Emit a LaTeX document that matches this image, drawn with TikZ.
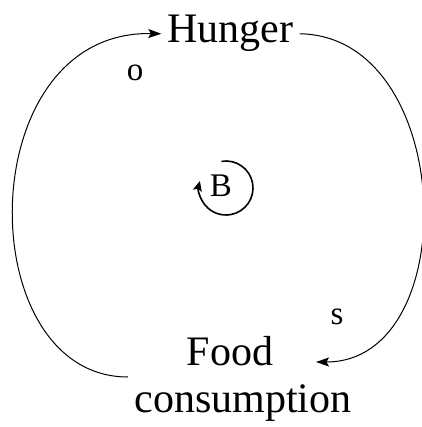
\documentclass[tikz,border=0pt]{standalone}
\usepackage{fontspec}
\setmainfont{Liberation Serif}
\usetikzlibrary{arrows.meta}

\begin{document}
\begin{tikzpicture}[x=1pt,y=-1pt,>={Stealth[length=13pt,width=9pt,inset=2.5pt]},var/.style={font=\fontsize{42}{47}\selectfont, inner ysep=0pt, inner xsep=6pt},link/.style={->, line width=1pt},sign/.style={font=\fontsize{33}{38}\selectfont, inner sep=0pt},loopmark/.style={->, line width=1.6pt, >={Stealth[length=10pt,width=9pt,inset=2pt]}}]
\useasboundingbox (0,0) rectangle (421,427);
\node[var, anchor=base] (hunger) at (230.5,43) {Hunger};
\node[var, anchor=base] (food) at (230,365) {Food};
\node[var, anchor=base] (cons) at (243,412) {consumption};
\draw[link] ([shift={(-102,12)}]food.base) .. controls (-30,377) and (-30,30) .. (hunger.west);
\draw[link] (hunger.east) .. controls (456,36) and (465,362) .. ([shift={(86,-3)}]food.base);
\node[sign] (o) at (135,73) {o};
\node[sign] (s) at (337,317) {s};
\node[sign] (B) at (221,186) {B};
\draw[loopmark] ([shift={(5,2)}]B.center) ++(-100:27) arc[start angle=-100, end angle=195, radius=27];
\end{tikzpicture}
\end{document}
